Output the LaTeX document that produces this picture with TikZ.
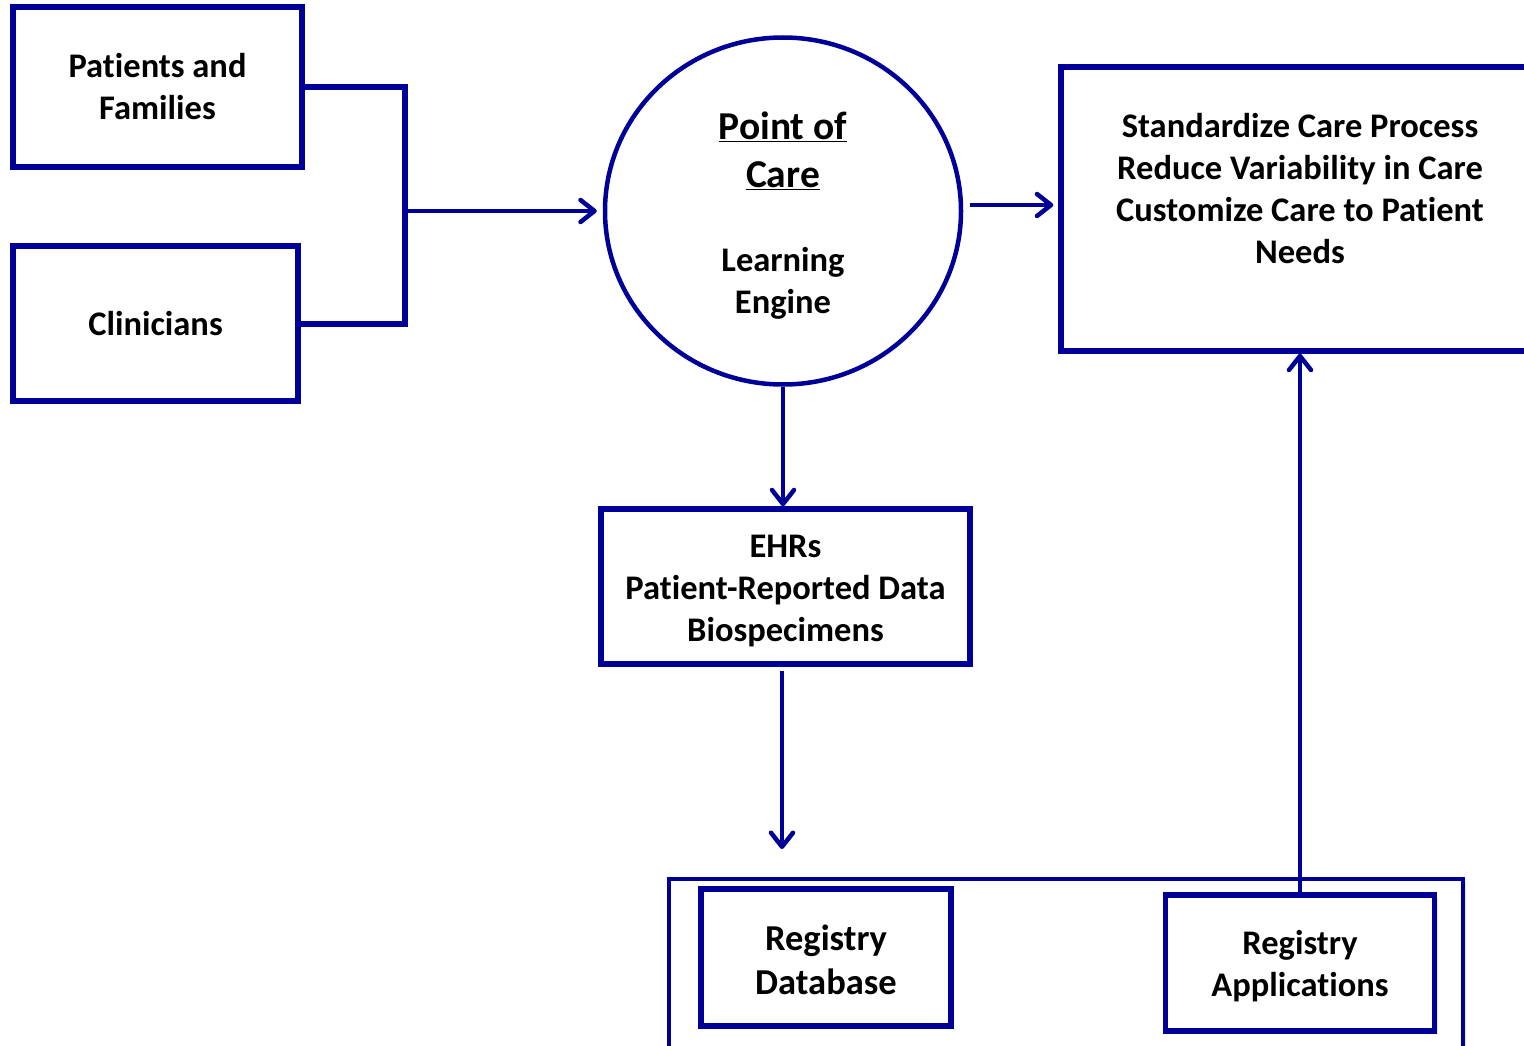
\documentclass[tikz,border=0pt]{standalone}
\usepackage{fontspec}
\setmainfont{Carlito}[Ligatures=NoCommon]
\usetikzlibrary{arrows.meta,positioning,calc,shapes.geometric,shadows}
\definecolor{regblue}{RGB}{0,0,153}
\tikzset{
  regbox/.style={
    draw=regblue,
    fill=white,
    line width=5.5pt,
    align=center,
    inner sep=0pt,
    font=\fontsize{34.5}{42}\selectfont\bfseries,
    drop shadow={shadow xshift=3pt,shadow yshift=-3pt,opacity=0.18}
  },
  regtext/.style={
    align=center,
    inner sep=0pt,
    font=\fontsize{34.5}{42}\selectfont\bfseries
  },
  regline/.style={draw=regblue,line width=6pt},
  regarrow/.style={draw=regblue,line width=4.5pt,-{Straight Barb[length=14pt,width=22pt,round]}}
}

\begin{document}
\begin{tikzpicture}[x=1pt,y=1pt]
  \useasboundingbox (0,0) rectangle (1524,-1046);
  % inputs
  \node[regbox,minimum width=289pt,minimum height=160pt] (pat) at (157.5,-87) {Patients and\\Families};
  \node[regbox,minimum width=285pt,minimum height=155pt] (cli) at (155.5,-323.5) {Clinicians};
  \coordinate (join) at (405,-211);
  \draw[regline] (pat.east) -| (join) |- (cli.east);
  % learning engine
  \node[draw=regblue,line width=4.5pt,ellipse,minimum width=356pt,minimum height=347pt,inner sep=0pt] (poc) at (783,-211) {};
  \node[regtext,font=\fontsize{39.5}{48}\selectfont\bfseries] (poctitle) at ($(poc.center)+(0,60)$) {\underline{Point of}\\\underline{Care}};
  \node[regtext] (pocsub) at ($(poc.center)+(0,-72)$) {Learning\\Engine};
  \draw[regarrow,shorten >=6pt] (join) -- (poc.west);
  % outcomes
  \node[regbox,minimum width=478pt,minimum height=284pt] (std) at (1300,-209) {};
  \node[regtext] (stdtext) at (1300,-188.5) {Standardize Care Process\\Reduce Variability in Care\\Customize Care to Patient\\Needs};
  \draw[regarrow] ([shift={(7pt,6pt)}]poc.east) -- ([shift={(-5pt,4pt)}]std.west);
  % data
  \node[regbox,minimum width=369pt,minimum height=155pt,
    label={[regtext,yshift=-5pt]center:{EHRs\\Patient-Reported Data\\Biospecimens}}] (ehr) at (785.5,-586.5) {};
  \draw[regarrow] (poc.south) -- (poc.south |- ehr.north);
  \coordinate (ehrend) at (782,-849);
  \draw[regarrow] (ehrend |- {$(ehr.south)+(0,-4)$}) -- (ehrend);
  % registry
  \node[draw=regblue,fill=white,line width=3.5pt,minimum width=794pt,minimum height=300pt,inner sep=0pt,
    drop shadow={shadow xshift=3pt,shadow yshift=-3pt,opacity=0.18}] (reg) at (1066,-1029) {};
  \node[regbox,minimum width=250pt,minimum height=137pt,
    label={[regtext,font=\fontsize{36.5}{44}\selectfont\bfseries,yshift=-2pt]center:{Registry\\Database}}] (rdb) at (826,-957.5) {};
  \node[regbox,minimum width=269pt,minimum height=136pt,
    label={[regtext,yshift=-3pt]center:{Registry\\Applications}}] (rapp) at (1300,-963) {};
  \draw[regarrow] (rapp.north) -- (rapp.north |- std.south);
\end{tikzpicture}
\end{document}
